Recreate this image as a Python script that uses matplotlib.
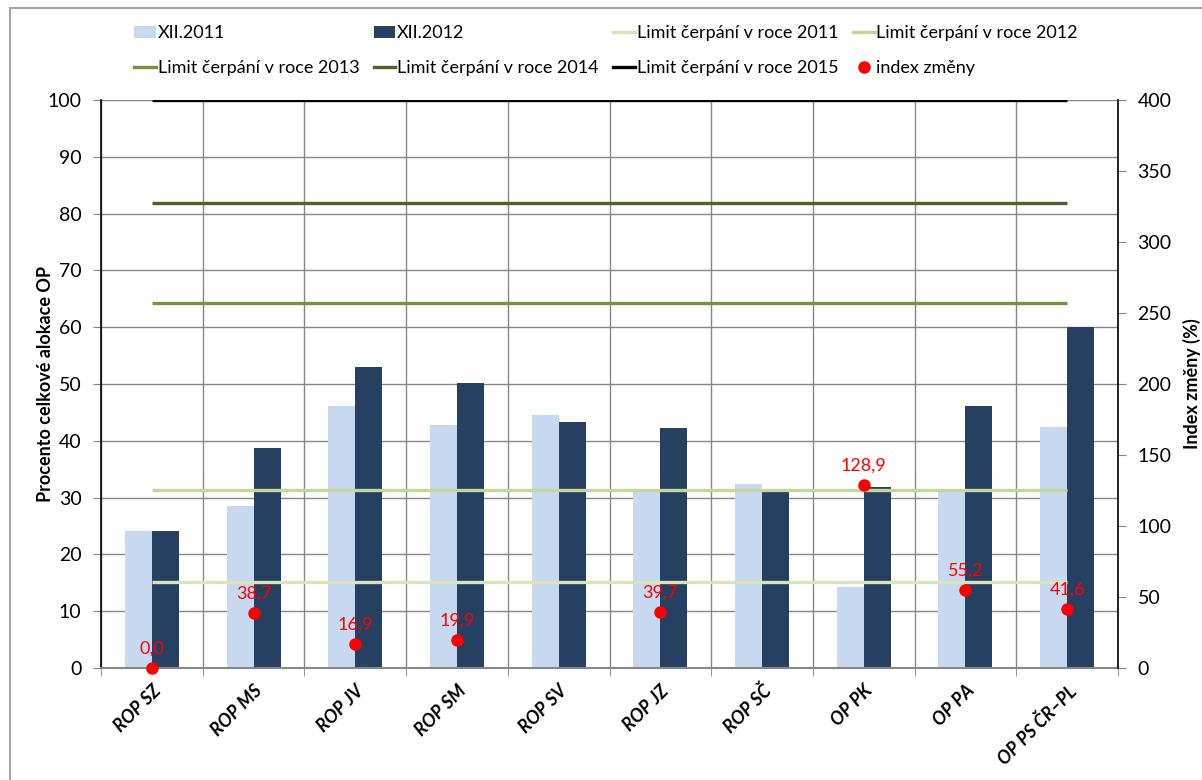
import matplotlib.pyplot as plt
import matplotlib as mpl
import numpy as np
from matplotlib.patches import Rectangle
from matplotlib.lines import Line2D

plt.rcParams['font.family'] = ['Lato', 'DejaVu Sans']

categories = ['ROP SZ', 'ROP MS', 'ROP JV', 'ROP SM', 'ROP SV',
              'ROP JZ', 'ROP SČ', 'OP PK', 'OP PA', 'OP PS ČR–PL']
xii_2011 = [24.2, 28.5, 46.2, 42.7, 44.5, 31.2, 32.4, 14.3, 31.3, 42.4]
xii_2012 = [24.2, 38.8, 53.0, 50.1, 43.3, 42.2, 31.0, 31.9, 46.1, 60.0]
index_zmeny = [0.0, 38.7, 16.9, 19.9, np.nan, 39.7, np.nan, 128.9, 55.2, 41.6]
limit_years = ['2011', '2012', '2013', '2014', '2015']
limit_values = [15.2, 31.4, 64.2, 81.9, 100.0]
limit_colors = ['#D7E4BD', '#C3D69B', '#77933C', '#4F6228', '#000000']

fig = plt.figure(figsize=(12.02, 7.80), dpi=100)
ax = fig.add_axes([101 / 1202, 1 - 668 / 780, (1118 - 101) / 1202, (668 - 100) / 780])

x = np.arange(len(categories))
w = 0.265
grid_c = '#878787'

ax.set_axisbelow(True)
b1 = ax.bar(x - w / 2, xii_2011, w, color='#C6D9F1', label='XII.2011', zorder=2)
b2 = ax.bar(x + w / 2, xii_2012, w, color='#254061', label='XII.2012', zorder=2)

lim_handles = []
for yr, val, col in zip(limit_years, limit_values, limit_colors):
    ax.hlines(val, x[0], x[-1], color=col, lw=2.4, zorder=3)
    lim_handles.append(Line2D([], [], color=col, lw=2.4, label=f'Limit čerpání v roce {yr}'))

ax.set_xlim(-0.5, len(categories) - 0.5)
ax.set_ylim(0, 100)
ax.set_yticks(np.arange(0, 101, 10))
ax.set_xticks(x)
ax.set_xticks(np.arange(-0.5, len(categories), 1), minor=True)
ax.set_xticklabels(categories, rotation=45, ha='right', rotation_mode='anchor',
                   fontsize=13, fontweight='bold', fontstyle='italic')
ax.tick_params(axis='x', which='major', length=0, pad=10)
ax.tick_params(axis='x', which='minor', length=6, color=grid_c, direction='out')
ax.tick_params(axis='y', length=6, color=grid_c, labelsize=14, pad=8)
ax.grid(True, which='minor', axis='x', color=grid_c, lw=1)
ax.grid(True, which='major', axis='y', color=grid_c, lw=1)
ax.spines['top'].set_visible(False)
ax.spines['bottom'].set_color(grid_c)
ax.spines['bottom'].set_linewidth(1.5)
ax.spines['left'].set_linewidth(1.2)
ax.spines['right'].set_visible(False)
ax.set_ylabel('Procento celkové alokace OP', fontsize=13, fontweight='bold')
ax.yaxis.set_label_coords(-0.046, 0.5)

ax2 = ax.twinx()
ax2.set_ylim(0, 400)
ax2.set_yticks(np.arange(0, 401, 50))
ax2.tick_params(axis='y', length=6, color=grid_c, labelsize=14, pad=8)
ax2.spines['top'].set_visible(False)
ax2.spines['left'].set_visible(False)
ax2.spines['bottom'].set_visible(False)
ax2.spines['right'].set_linewidth(1.2)
pts = ax2.plot(x, index_zmeny, 'o', color='#FF0000', ms=8, label='index změny',
               zorder=5, clip_on=False)[0]
for xi, v in zip(x, index_zmeny):
    if np.isnan(v):
        continue
    ax2.annotate(f'{v:.1f}'.replace('.', ','), (xi, v), xytext=(0, 8),
                 textcoords='offset points', ha='center', va='bottom',
                 color='#FF0000', fontsize=13)
ax2.set_ylabel('Index změny (%)', fontsize=13, fontweight='bold')
ax2.yaxis.set_label_coords(1.064, 0.5)

handles = [b1, b2] + lim_handles + [pts]
order = [0, 4, 1, 5, 2, 6, 3, 7]
fig.legend([handles[i] for i in order], [handles[i].get_label() for i in order],
           ncol=4, loc='upper left', bbox_to_anchor=(118 / 1202, 1 - 9 / 780),
           frameon=False, fontsize=13, handlelength=1.2, handletextpad=0.1,
           columnspacing=0.8, labelspacing=1.05)

fig.patches.append(Rectangle((10 / 1202, -0.1), 1.2, 0.1 + (780 - 8) / 780,
                             transform=fig.transFigure, fill=False,
                             edgecolor='#A6A6A6', lw=1.5))

fig.savefig('out.png', dpi=100)
